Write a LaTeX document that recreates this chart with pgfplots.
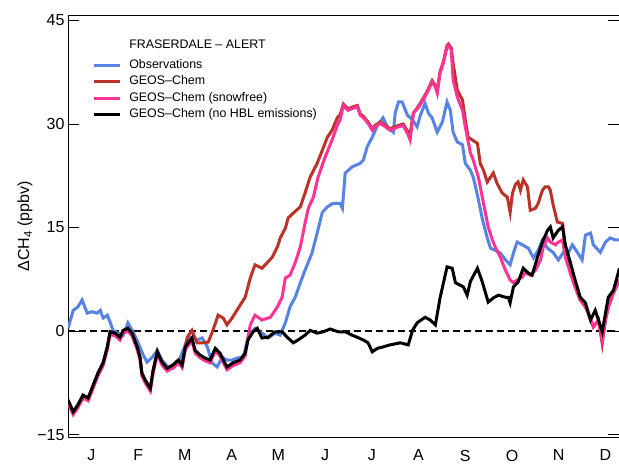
\documentclass[border=0pt]{standalone}
\usepackage{fontspec}
\setmainfont{Liberation Sans}
\usepackage{pgfplots}
\pgfplotsset{compat=1.18}

\definecolor{obsblue}{RGB}{86,131,228}
\definecolor{gcred}{RGB}{186,50,40}
\definecolor{gcpink}{RGB}{255,50,150}

\begin{document}
\begin{tikzpicture}
\begin{axis}[
    at={(0pt,0pt)}, anchor=south west,
    scale only axis,
    width=551pt, height=422pt,
    xmin=0, xmax=11.8,
    ymin=-15.4, ymax=45.8,
    ytick={-15,0,15,30,45},
    yticklabels={−15,0,15,30,45},
    xtick={0.5,1.5,...,11.5},
    xticklabels={J,F,M,A,M,J,J,A,S,O,N,D},
    major x tick style={draw=none},
    extra x ticks={1,2,...,11},
    extra x tick labels={},
    extra x tick style={major tick length=9pt, tick style={black, line width=1pt}},
    major tick length=11pt,
    tick align=inside,
    tick style={black, line width=1pt},
    axis line style={line width=1pt},
    tick label style={font=\fontsize{16}{18}\selectfont},
    xticklabel style={yshift=-9pt},
    ylabel={ΔCH\textsubscript{4} (ppbv)},
    ylabel style={at={(axis description cs:-0.078,0.5)}, anchor=center, font=\fontsize{16}{18}\selectfont},
    legend style={draw=none, fill=none, at={(rel axis cs:0,1)}, anchor=north west,
        xshift=24pt, yshift=-24pt, font=\fontsize{12.4}{14}\selectfont,
        row sep=4.3pt, column sep=8pt, inner sep=0pt,
        nodes={inner sep=0pt, text height=9pt, text depth=3pt}},
    legend cell align=left,
    legend image code/.code={\draw[#1, line width=3pt] (0pt,0pt) -- (26pt,0pt);},
]
\addlegendimage{empty legend}
\addlegendentry[text depth=7pt]{FRASERDALE – ALERT}

\addplot[forget plot, black, line width=1.3pt, dash pattern=on 7pt off 4pt] coordinates {(0,0) (11.8,0)};

% Observations
\addplot[obsblue, line width=3pt] coordinates {
(0.00,0.4)(0.11,3.0)(0.21,3.5)(0.30,4.5)(0.41,2.6)(0.51,2.8)(0.62,2.6)(0.69,3.0)(0.75,1.9)(0.84,2.3)
(0.90,1.3)(0.96,0.1)(1.07,-0.3)(1.18,-0.6)(1.28,1.2)(1.39,-0.1)(1.50,-1.7)(1.61,-3.5)(1.69,-4.5)(1.80,-3.8)
(1.91,-2.8)(2.01,-4.2)(2.14,-5.2)(2.25,-5.4)(2.36,-4.6)(2.46,-2.8)(2.57,-0.9)(2.65,-0.9)(2.76,-1.3)(2.87,-1.0)
(2.98,-2.3)(3.08,-4.6)(3.19,-5.2)(3.30,-3.8)(3.40,-4.2)(3.51,-4.2)(3.62,-3.9)(3.75,-3.8)(3.85,-0.9)(4.00,0.4)
(4.15,-0.3)(4.28,-1.0)(4.43,-0.3)(4.54,-0.6)(4.65,1.2)(4.75,3.5)(4.86,4.9)(4.97,7.0)(5.07,8.8)(5.22,11.3)
(5.33,14.2)(5.44,17.2)(5.55,18.0)(5.67,18.5)(5.82,18.5)(5.87,17.8)(5.93,22.9)(6.08,23.8)(6.25,24.3)(6.32,24.8)
(6.40,26.7)(6.51,28.1)(6.62,29.8)(6.74,30.9)(6.83,29.6)(6.96,28.8)(7.00,31.6)(7.07,33.2)(7.15,33.2)(7.26,31.3)
(7.37,30.6)(7.47,29.6)(7.54,31.3)(7.64,33.0)(7.71,31.6)(7.79,30.9)(7.90,28.8)(8.01,30.3)(8.11,33.2)(8.18,32.0)
(8.24,28.8)(8.33,27.4)(8.44,27.0)(8.50,24.3)(8.61,23.3)(8.67,22.3)(8.76,19.7)(8.87,16.1)(8.97,13.5)(9.04,12.0)
(9.14,11.7)(9.25,11.3)(9.36,10.3)(9.46,9.6)(9.53,11.3)(9.61,12.9)(9.72,12.5)(9.85,12.0)(9.96,10.6)(10.06,11.7)
(10.15,13.2)(10.26,12.0)(10.38,11.4)(10.49,10.3)(10.60,11.4)(10.71,11.4)(10.79,12.5)(10.90,11.4)(11.00,10.3)(11.07,13.9)
(11.18,14.2)(11.24,12.5)(11.39,11.4)(11.50,12.9)(11.60,13.5)(11.71,13.2)(11.80,13.2)
};
\addlegendentry{Observations}

% GEOS-Chem
\addplot[gcred, line width=3pt] coordinates {
(0.00,-10.0)(0.11,-11.7)(0.21,-10.7)(0.32,-9.3)(0.43,-9.7)(0.54,-7.8)(0.64,-6.1)(0.75,-4.6)(0.84,-2.3)(0.90,-0.1)
(1.01,-0.3)(1.11,-0.9)(1.18,0.1)(1.28,0.4)(1.37,-0.3)(1.48,-2.3)(1.54,-3.8)(1.58,-6.1)(1.65,-7.1)(1.76,-8.3)
(1.82,-5.7)(1.91,-3.0)(2.01,-4.5)(2.12,-5.4)(2.25,-4.9)(2.36,-4.2)(2.44,-4.9)(2.51,-2.3)
(2.55,-0.9)(2.65,0.1)(2.76,-1.7)(2.87,-1.7)(3.00,-1.6)(3.10,0.1)(3.21,2.3)(3.32,1.9)(3.40,0.9)(3.51,1.9)
(3.64,3.3)(3.79,4.9)(3.90,7.7)(4.00,9.6)(4.15,9.1)(4.26,9.9)(4.37,10.7)(4.48,12.2)(4.54,13.5)(4.65,14.9)
(4.71,16.4)(4.82,17.1)(4.97,18.0)(5.07,20.0)(5.18,22.3)(5.33,24.3)(5.44,26.2)(5.55,28.1)(5.65,29.1)(5.76,30.9)
(5.82,31.3)(5.89,32.9)
(5.99,32.2)(6.10,32.5)(6.19,32.7)(6.25,31.5)(6.32,31.1)(6.42,30.3)(6.51,29.3)(6.57,29.8)(6.68,30.3)(6.79,29.8)
(6.89,29.3)(7.00,29.6)(7.07,29.8)(7.17,30.0)(7.28,28.8)(7.32,28.6)(7.39,31.6)(7.49,32.5)(7.60,33.7)(7.71,35.1)
(7.79,36.3)(7.86,35.6)(7.90,34.7)(7.96,37.6)(8.03,39.0)(8.11,41.4)(8.14,41.6)(8.20,41.0)
(8.24,38.8)(8.33,34.9)(8.44,33.5)(8.50,30.6)(8.56,28.1)(8.65,27.7)(8.76,27.2)(8.82,24.3)(8.89,23.3)(8.97,21.6)
(9.04,22.3)(9.10,22.9)(9.18,21.4)(9.29,20.0)(9.40,19.4)(9.46,17.2)(9.51,20.0)(9.57,21.2)(9.63,21.6)(9.68,20.4)
(9.74,21.9)(9.83,20.9)(9.89,17.5)(10.00,17.8)(10.06,18.5)(10.15,20.4)(10.21,20.9)(10.28,20.9)(10.32,20.4)(10.38,18.3)
(10.47,15.8)(10.58,15.6)(10.64,12.2)(10.75,8.4)(10.85,6.4)(10.96,4.5)(11.07,3.5)(11.13,2.6)(11.24,0.6)(11.35,1.6)
(11.43,-1.8)(11.50,1.6)(11.56,3.5)(11.67,5.5)(11.80,7.4)
};
\addlegendentry{GEOS–Chem}

% GEOS-Chem (snowfree)
\addplot[gcpink, line width=3pt] coordinates {
(0.00,-10.4)(0.11,-12.1)(0.21,-11.1)(0.32,-9.7)(0.43,-10.1)(0.54,-8.2)(0.64,-6.5)(0.75,-5.0)(0.84,-2.7)(0.90,-0.5)
(1.01,-0.7)(1.11,-1.3)(1.18,-0.3)(1.28,0.0)(1.37,-0.7)(1.48,-2.7)(1.54,-4.2)(1.58,-6.5)(1.65,-7.5)(1.76,-8.7)
(1.82,-6.1)(1.91,-3.4)(2.01,-4.9)(2.12,-5.8)(2.25,-5.3)(2.36,-4.6)(2.44,-5.3)(2.51,-2.7)(2.57,-2.1)(2.65,-1.4)
(2.72,-3.2)(2.83,-3.9)(2.93,-4.3)(3.04,-4.6)(3.15,-2.9)(3.25,-3.6)(3.40,-5.6)(3.53,-5.0)(3.68,-4.6)(3.79,-3.6)
(3.85,-0.9)(3.90,0.9)(4.00,2.3)(4.15,1.6)(4.33,2.0)(4.48,3.5)(4.58,4.9)(4.65,7.7)(4.75,8.1)(4.86,9.9)
(4.97,12.2)(5.07,15.6)(5.14,17.8)(5.25,19.4)(5.35,22.3)(5.50,25.2)(5.65,27.7)(5.76,29.8)(5.82,30.6)(5.89,32.7)
(5.99,32.0)(6.10,32.3)(6.19,32.5)(6.25,31.3)(6.32,30.9)(6.42,30.1)(6.51,29.1)(6.57,29.6)(6.68,30.1)(6.79,29.6)
(6.89,29.1)(7.00,29.4)(7.07,29.6)(7.17,29.8)(7.28,28.4)(7.32,27.7)(7.39,31.6)(7.49,32.3)(7.60,33.5)(7.71,34.9)
(7.79,36.1)(7.86,35.4)(7.90,34.5)(7.96,37.4)(8.03,38.8)(8.11,41.2)(8.14,41.4)(8.20,40.7)(8.24,36.4)(8.33,33.9)
(8.44,32.0)(8.50,29.6)(8.61,25.8)(8.67,24.8)(8.78,22.3)(8.89,18.5)(8.99,15.1)(9.08,13.2)(9.14,12.2)(9.25,10.7)
(9.36,8.8)(9.46,7.4)(9.53,7.0)(9.61,7.4)(9.72,7.8)(9.78,8.5)(9.89,8.1)(10.00,8.8)(10.11,10.3)(10.17,12.2)
(10.26,13.5)(10.32,12.9)(10.43,12.5)(10.49,12.9)(10.58,13.2)(10.64,10.7)(10.75,8.4)(10.85,6.4)(10.96,4.5)(11.07,3.5)
(11.13,2.6)(11.24,0.6)(11.35,1.6)(11.43,-1.3)(11.50,1.6)(11.56,3.5)(11.67,5.5)(11.80,7.4)
};
\addlegendentry{GEOS–Chem (snowfree)}

% GEOS-Chem (no HBL emissions)
\addplot[black, line width=3pt] coordinates {
(0.00,-10.0)(0.11,-11.7)(0.21,-10.7)(0.32,-9.3)(0.43,-9.7)(0.54,-7.8)(0.64,-6.1)(0.75,-4.6)(0.84,-2.3)(0.90,-0.1)
(1.01,-0.3)(1.11,-0.9)(1.18,0.1)(1.28,0.4)(1.37,-0.3)(1.48,-2.3)(1.54,-3.8)(1.58,-6.1)(1.65,-7.1)(1.76,-8.3)
(1.82,-5.7)(1.91,-3.0)(2.01,-4.5)(2.12,-5.4)(2.25,-4.9)(2.36,-4.2)(2.44,-4.9)(2.51,-2.3)(2.57,-1.7)(2.65,-1.0)
(2.72,-2.8)(2.83,-3.5)(2.93,-3.9)(3.04,-4.2)(3.15,-2.5)(3.25,-3.2)(3.40,-5.2)(3.53,-4.6)(3.68,-4.2)(3.79,-3.2)
(3.85,-1.3)(3.96,-0.1)(4.05,0.4)(4.15,-1.0)(4.28,-0.9)(4.43,-0.1)(4.58,-0.1)(4.69,-0.9)(4.82,-1.7)(4.92,-1.3)
(5.07,-0.6)(5.18,0.1)(5.33,-0.3)(5.46,-0.1)(5.61,0.3)(5.78,-0.1)(5.93,-0.1)(6.08,-0.6)(6.19,-0.9)(6.32,-1.3)
(6.42,-1.7)(6.51,-3.0)(6.62,-2.5)(6.74,-2.3)(6.89,-2.0)(7.11,-1.7)(7.28,-2.0)(7.37,0.1)(7.47,1.2)(7.64,2.0)
(7.75,1.6)(7.86,0.9)(7.96,4.8)(8.11,9.3)(8.22,9.1)(8.29,7.0)(8.46,6.4)(8.54,5.2)(8.61,7.2)(8.76,9.1)
(8.86,7.2)(8.99,4.2)(9.10,4.8)(9.21,5.2)(9.36,4.9)(9.42,4.9)(9.46,4.1)(9.53,6.4)(9.63,7.1)(9.74,9.1)
(9.85,8.4)(9.93,8.1)(10.04,10.6)(10.15,12.9)(10.26,14.6)(10.32,15.1)(10.38,13.5)(10.49,14.6)(10.58,15.1)(10.64,12.5)
(10.75,9.9)(10.85,7.4)(10.96,4.9)(11.07,4.1)(11.18,1.6)(11.28,3.0)(11.35,1.6)(11.43,-0.1)(11.50,2.6)(11.56,4.9)
(11.67,5.9)(11.80,9.1)
};
\addlegendentry{GEOS–Chem (no HBL emissions)}
\end{axis}
\pgfresetboundingbox
\useasboundingbox (-68pt,-27pt) rectangle (550.5pt,437pt);
\end{tikzpicture}
\end{document}
